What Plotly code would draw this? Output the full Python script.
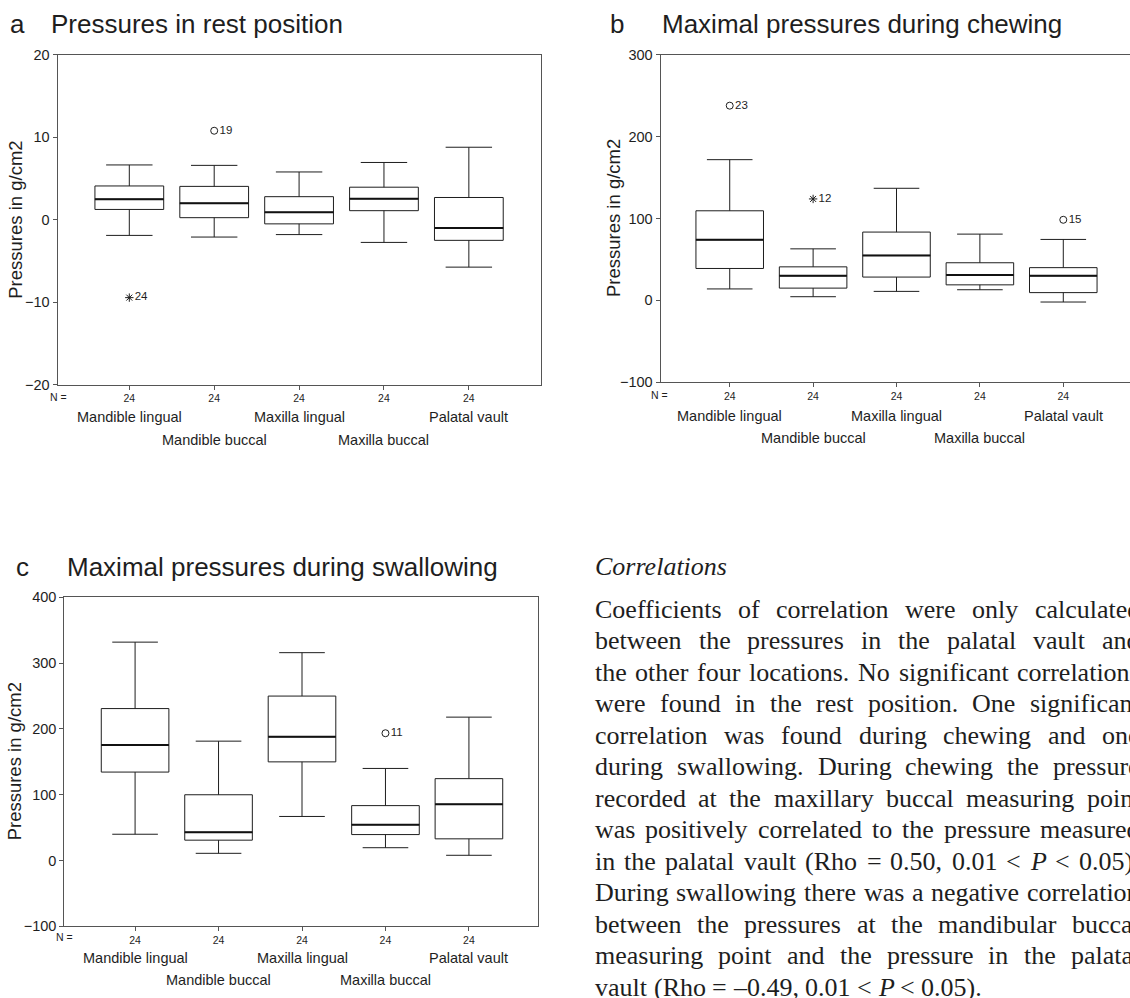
import plotly.graph_objects as go

W, H = 1130, 998

# ---------------- data ----------------
categories = ["Mandible lingual", "Mandible buccal", "Maxilla lingual", "Maxilla buccal", "Palatal vault"]
n_labels = ["24", "24", "24", "24", "24"]
positions = [0, 1, 2, 3, 4]

# a: rest position
rest_low = [-1.9, -2.1, -1.8, -2.75, -5.75]
rest_q1 = [1.25, 0.25, -0.5, 1.1, -2.5]
rest_med = [2.5, 2.0, 0.9, 2.55, -1.0]
rest_q3 = [4.1, 4.05, 2.8, 3.95, 2.7]
rest_high = [6.65, 6.6, 5.8, 6.95, 8.8]
rest_out_x = [0, 1]
rest_out_y = [-9.45, 10.8]
rest_out_sym = ["asterisk-open", "circle-open"]
rest_out_lab = ["24", "19"]

# b: chewing
chew_low = [14, 4.5, 11, 13, -2]
chew_q1 = [39, 15, 28.5, 19, 9.5]
chew_med = [74, 30, 55, 31, 30]
chew_q3 = [109.5, 41, 83.5, 46, 40]
chew_high = [172, 63, 137, 81, 74.5]
chew_out_x = [0, 1, 4]
chew_out_y = [238, 124, 98.5]
chew_out_sym = ["circle-open", "asterisk-open", "circle-open"]
chew_out_lab = ["23", "12", "15"]

# c: swallowing
swal_low = [40, 11, 67, 19.5, 8]
swal_q1 = [134.5, 31, 150, 39.5, 33]
swal_med = [175.5, 43, 188, 54.5, 85.5]
swal_q3 = [231, 100, 250, 83.5, 124.5]
swal_high = [332, 181.5, 316, 140, 218]
swal_out_x = [3]
swal_out_y = [193.5]
swal_out_sym = ["circle-open"]
swal_out_lab = ["11"]

text_heading = "Correlations"
text_lines = [
    "Coefficients of correlation were only calculated",
    "between the pressures in the palatal vault and",
    "the other four locations. No significant correlations",
    "were found in the rest position. One significant",
    "correlation was found during chewing and one",
    "during swallowing. During chewing the pressure",
    "recorded at the maxillary buccal measuring point",
    "was positively correlated to the pressure measured",
    "in the palatal vault (Rho = 0.50, 0.01 < P < 0.05).",
    "During swallowing there was a negative correlation",
    "between the pressures at the mandibular buccal",
    "measuring point and the pressure in the palatal",
    "vault (Rho = \u20130.49, 0.01 < P < 0.05).",
]

# ---------------- helpers ----------------
SANS = "Liberation Sans, Arial, sans-serif"
SERIF = "Liberation Serif, Times New Roman, serif"
INK = "#1e1e1e"
FRAME = "#555555"


def fx(px):
    return px / W


def fy(py):
    return 1 - py / H


panels = [
    dict(ax="", xd=(57.5, 541), yd=(47.7, 382.7), xr=[-0.846, 4.85], yr=[-20, 20],
         ticks=[-20, -10, 0, 10, 20],
         data=(rest_low, rest_q1, rest_med, rest_q3, rest_high),
         out=(rest_out_x, rest_out_y, rest_out_sym, rest_out_lab),
         title="Pressures in rest position", letter="a",
         letter_x=17.5, title_x=50, title_y=16.5, ytitle_x=16,
         nrow_y=395.5, row1_y=416, row2_y=439, nx=58, mirror=True),
    dict(ax="2", xd=(660.5, 1130), yd=(47.7, 380.3), xr=[-0.83, 4.80], yr=[-100, 300],
         ticks=[-100, 0, 100, 200, 300],
         data=(chew_low, chew_q1, chew_med, chew_q3, chew_high),
         out=(chew_out_x, chew_out_y, chew_out_sym, chew_out_lab),
         title="Maximal pressures during chewing", letter="b",
         letter_x=617, title_x=660.5, title_y=16.5, ytitle_x=613.5,
         nrow_y=393.3, row1_y=414.3, row2_y=436.7, nx=659, mirror=False),
    dict(ax="3", xd=(64.3, 538.2), yd=(599, 933.3), xr=[-0.848, 4.83], yr=[-100, 400],
         ticks=[-100, 0, 100, 200, 300, 400],
         data=(swal_low, swal_q1, swal_med, swal_q3, swal_high),
         out=(swal_out_x, swal_out_y, swal_out_sym, swal_out_lab),
         title="Maximal pressures during swallowing", letter="c",
         letter_x=22, title_x=66, title_y=568.5, ytitle_x=14.5,
         nrow_y=944.3, row1_y=965, row2_y=988.3, nx=64.5, mirror=True),
]

BOXW = 0.81
fig = go.Figure()
annotations = []
layout = {}

for p in panels:
    ax = p["ax"]
    xname, yname = "x" + ax, "y" + ax
    low, q1, med, q3, high = p["data"]
    fig.add_trace(go.Box(
        x=positions, q1=q1, median=med, q3=q3, lowerfence=low, upperfence=high,
        width=BOXW, whiskerwidth=0.675, fillcolor="white",
        line=dict(color=INK, width=1), boxpoints=False, hoverinfo="skip",
        showlegend=False, xaxis=xname, yaxis=yname))
    # thicker median lines
    mx, my = [], []
    for i, m in zip(positions, med):
        mx += [i - BOXW / 2, i + BOXW / 2, None]
        my += [m, m, None]
    fig.add_trace(go.Scatter(x=mx, y=my, mode="lines", line=dict(color="#111111", width=2),
                             hoverinfo="skip", showlegend=False, xaxis=xname, yaxis=yname))
    ox, oy, osym, olab = p["out"]
    fig.add_trace(go.Scatter(
        x=ox, y=oy, mode="markers+text", text=olab, textposition="middle right",
        textfont=dict(family=SANS, size=11.5, color=INK),
        marker=dict(symbol=osym, size=7, color=INK, line=dict(color=INK, width=1)),
        hoverinfo="skip", showlegend=False, xaxis=xname, yaxis=yname))

    layout["xaxis" + ax] = dict(
        domain=[fx(p["xd"][0]), fx(p["xd"][1])], range=p["xr"], anchor=yname,
        tickmode="array", tickvals=positions, ticktext=n_labels,
        ticks="outside", ticklen=4, tickcolor=FRAME, tickwidth=1,
        tickfont=dict(family=SANS, size=10.5, color=INK),
        showline=True, linecolor=FRAME, linewidth=1, mirror=True,
        showgrid=False, zeroline=False, fixedrange=True)
    layout["yaxis" + ax] = dict(
        domain=[fy(p["yd"][1]), fy(p["yd"][0])], range=p["yr"], anchor=xname,
        tickmode="array", tickvals=p["ticks"],
        ticks="outside", ticklen=4, tickcolor=FRAME, tickwidth=1,
        tickfont=dict(family=SANS, size=14.5, color=INK),
        showline=True, linecolor=FRAME, linewidth=1, mirror=p["mirror"],
        showgrid=False, zeroline=False, fixedrange=True)

    # panel letter and title
    annotations.append(dict(text=p["letter"], x=fx(p["letter_x"]), y=fy(p["title_y"]),
                            xref="paper", yref="paper", xanchor="center", yanchor="middle",
                            showarrow=False, font=dict(family=SANS, size=26, color=INK)))
    annotations.append(dict(text=p["title"], x=fx(p["title_x"]), y=fy(p["title_y"]),
                            xref="paper", yref="paper", xanchor="left", yanchor="middle",
                            showarrow=False, borderpad=0,
                            font=dict(family=SANS, size=26, color=INK)))
    # y axis title
    ymid = (p["yd"][0] + p["yd"][1]) / 2
    annotations.append(dict(text="Pressures in g/cm2", x=fx(p["ytitle_x"]), y=fy(ymid),
                            xref="paper", yref="paper", xanchor="center", yanchor="middle",
                            textangle=-90, showarrow=False,
                            font=dict(family=SANS, size=18.5, color=INK)))
    # N =
    annotations.append(dict(text="N =", x=fx(p["nx"]), y=fy(p["nrow_y"]),
                            xref="paper", yref="paper", xanchor="center", yanchor="middle",
                            showarrow=False, font=dict(family=SANS, size=10.5, color=INK)))
    # category names, staggered on two rows
    for i, name in zip(positions, categories):
        row_y = p["row1_y"] if i % 2 == 0 else p["row2_y"]
        annotations.append(dict(text=name, x=i, y=fy(row_y), xref=xname, yref="paper",
                                xanchor="center", yanchor="middle", showarrow=False,
                                font=dict(family=SANS, size=14.5, color=INK)))

# ---------------- justified body text ----------------
TIMES = {
    " ": 250, "(": 333, ")": 333, ",": 250, ".": 250, "\u2013": 500, "=": 564, "<": 564,
    "0": 500, "1": 500, "2": 500, "3": 500, "4": 500, "5": 500, "6": 500, "7": 500, "8": 500, "9": 500,
    "A": 722, "B": 667, "C": 667, "D": 722, "E": 611, "F": 556, "G": 722, "H": 722, "I": 333,
    "N": 722, "O": 722, "P": 556, "R": 667, "S": 556, "T": 611, "W": 944,
    "a": 444, "b": 500, "c": 444, "d": 500, "e": 444, "f": 333, "g": 500, "h": 500, "i": 278,
    "j": 278, "k": 500, "l": 278, "m": 778, "n": 500, "o": 500, "p": 500, "q": 500, "r": 333,
    "s": 389, "t": 278, "u": 500, "v": 500, "w": 722, "x": 500, "y": 500, "z": 444,
}
FS = 26
X0, XR = 594, 1139
BASE0, LEAD = 620, 32.0


def word_width(w):
    if w == "P":
        return 611 * FS / 1000  # italic P
    return sum(TIMES.get(ch, 500) for ch in w) * FS / 1000


def word_markup(w):
    if w == "P":
        return "<i>P</i>"
    return w.replace("<", "&lt;")


CENTER_OFF = 0.34 * FS
annotations.append(dict(text="<i>" + text_heading + "</i>", x=fx(X0), y=fy(576 - CENTER_OFF),
                        xref="paper", yref="paper", xanchor="left", yanchor="middle",
                        showarrow=False, borderpad=0,
                        font=dict(family=SERIF, size=FS, color=INK)))
for k, line in enumerate(text_lines):
    words = line.split(" ")
    widths = [word_width(w) for w in words]
    if k < len(text_lines) - 1 and len(words) > 1:
        gap = (XR - X0 - sum(widths)) / (len(words) - 1)
    else:
        gap = 250 * FS / 1000
    xpos = X0
    base = BASE0 + k * LEAD
    for w, wd in zip(words, widths):
        annotations.append(dict(text=word_markup(w), x=fx(xpos), y=fy(base - CENTER_OFF),
                                xref="paper", yref="paper", xanchor="left", yanchor="middle",
                                showarrow=False, borderpad=0,
                                font=dict(family=SERIF, size=FS, color=INK)))
        xpos += wd + gap

fig.update_layout(
    width=W, height=H, margin=dict(l=0, r=0, t=0, b=0),
    paper_bgcolor="white", plot_bgcolor="white",
    showlegend=False, annotations=annotations, **layout)

fig.write_html(
    "out.html",
    config={"displayModeBar": False},
    post_script="document.body.style.margin='0px';document.body.style.overflow='hidden';",
)
